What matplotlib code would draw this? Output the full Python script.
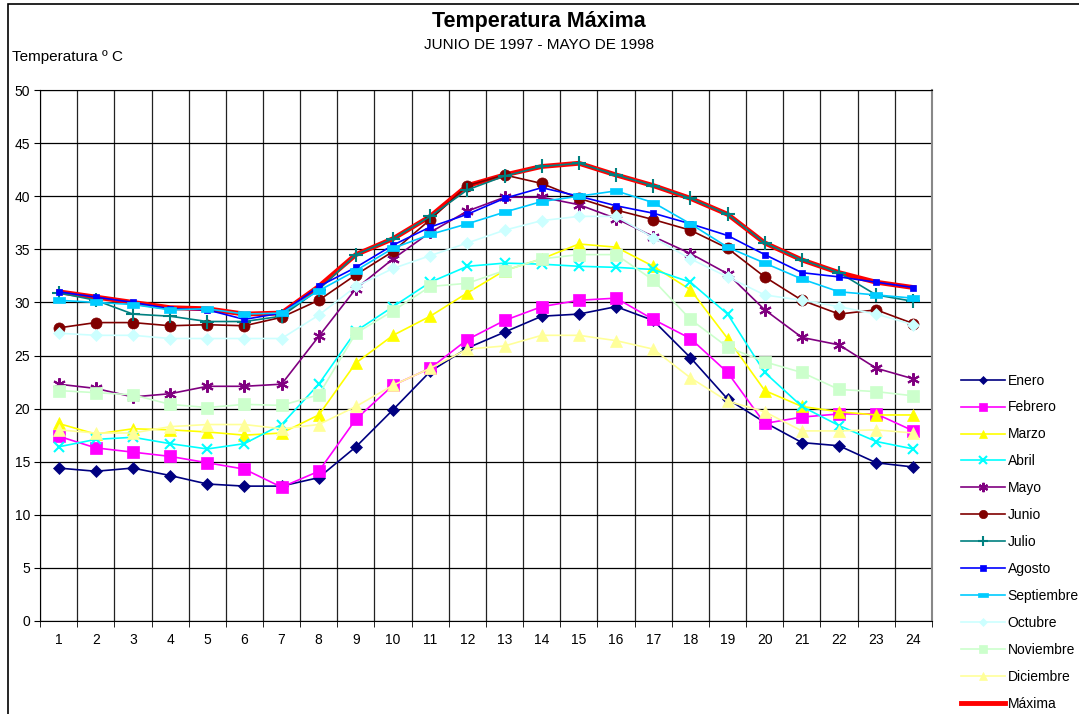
import matplotlib
matplotlib.use('Agg')
import matplotlib.pyplot as plt
from matplotlib.patches import Rectangle
from matplotlib.ticker import MultipleLocator

plt.rcParams['font.family'] = ['Liberation Sans', 'DejaVu Sans']

horas = list(range(1, 25))

enero = [14.4, 14.1, 14.4, 13.7, 12.9, 12.7, 12.7, 13.5, 16.4, 19.9, 23.5, 25.7,
         27.2, 28.7, 28.9, 29.6, 28.3, 24.8, 20.9, 18.7, 16.8, 16.5, 14.9, 14.5]
febrero = [17.4, 16.3, 15.9, 15.5, 14.9, 14.3, 12.6, 14.1, 19.0, 22.2, 23.8, 26.5,
           28.3, 29.6, 30.2, 30.4, 28.4, 26.6, 23.4, 18.6, 19.2, 19.5, 19.5, 17.9]
marzo = [18.6, 17.6, 18.1, 18.0, 17.8, 17.5, 17.7, 19.4, 24.3, 26.9, 28.7, 30.9,
         33.0, 34.1, 35.5, 35.2, 33.4, 31.2, 26.6, 21.7, 20.2, 19.7, 19.4, 19.4]
abril = [16.4, 17.1, 17.3, 16.7, 16.2, 16.7, 18.5, 22.3, 27.3, 29.6, 31.9, 33.4,
         33.7, 33.6, 33.4, 33.3, 33.1, 31.9, 28.9, 23.4, 20.2, 18.4, 16.9, 16.2]
mayo = [22.3, 21.9, 21.1, 21.4, 22.1, 22.1, 22.3, 26.8, 31.3, 34.1, 36.6, 38.6,
        39.9, 39.9, 39.2, 37.9, 36.2, 34.6, 32.7, 29.3, 26.7, 26.0, 23.8, 22.8]
junio = [27.6, 28.1, 28.1, 27.8, 27.9, 27.8, 28.6, 30.2, 32.6, 34.8, 37.8, 41.0,
         42.0, 41.2, 39.8, 38.7, 37.8, 36.8, 35.1, 32.4, 30.2, 28.9, 29.3, 28.0]
julio = [30.9, 30.2, 28.9, 28.7, 28.2, 28.2, 28.7, 31.2, 34.5, 36.0, 38.1, 40.6,
         41.9, 42.8, 43.1, 42.0, 41.0, 39.8, 38.3, 35.6, 34.0, 32.8, 30.7, 30.1]
agosto = [31.0, 30.5, 30.0, 29.4, 29.3, 28.4, 29.0, 31.5, 33.3, 35.4, 37.1, 38.3,
          39.8, 40.8, 40.0, 39.1, 38.4, 37.4, 36.3, 34.5, 32.8, 32.4, 31.9, 31.4]
septiembre = [30.2, 30.0, 29.8, 29.3, 29.4, 28.9, 29.0, 31.1, 33.0, 35.1, 36.4, 37.4,
              38.5, 39.5, 40.0, 40.5, 39.4, 37.4, 35.2, 33.7, 32.2, 31.0, 30.7, 30.4]
octubre = [27.1, 26.9, 26.9, 26.6, 26.6, 26.6, 26.6, 28.8, 31.5, 33.2, 34.4, 35.6,
           36.8, 37.7, 38.1, 38.1, 36.1, 34.1, 32.4, 30.7, 30.2, 29.6, 28.9, 27.9]
noviembre = [21.7, 21.5, 21.3, 20.4, 20.1, 20.4, 20.3, 21.3, 27.1, 29.2, 31.5, 31.8,
             33.0, 34.1, 34.5, 34.5, 32.1, 28.4, 25.8, 24.4, 23.4, 21.8, 21.6, 21.2]
diciembre = [18.0, 17.7, 17.7, 18.3, 18.5, 18.5, 18.1, 18.5, 20.2, 22.2, 23.8, 25.6,
             25.9, 26.9, 26.9, 26.4, 25.6, 22.9, 20.7, 19.7, 17.9, 17.9, 18.0, 17.7]
maxima = [31.0, 30.5, 30.0, 29.5, 29.4, 28.9, 29.0, 31.5, 34.5, 36.0, 38.1, 41.0,
          42.0, 42.8, 43.1, 42.0, 41.0, 39.8, 38.3, 35.6, 34.0, 32.8, 31.9, 31.4]

rect_ancho = [(-1, -0.5), (1, -0.5), (1, 0.5), (-1, 0.5), (-1, -0.5)]

# nombre, datos, color, marcador, tamaño
series = [
    ('Enero', enero, '#000080', 'D', 6),
    ('Febrero', febrero, '#FF00FF', 's', 8),
    ('Marzo', marzo, '#FFFF00', '^', 8),
    ('Abril', abril, '#00FFFF', 'x', 7),
    ('Mayo', mayo, '#800080', (6, 2, 0), 9),
    ('Junio', junio, '#800000', 'o', 8),
    ('Julio', julio, '#008080', '+', 10),
    ('Agosto', agosto, '#0000FF', 's', 5),
    ('Septiembre', septiembre, '#00CCFF', rect_ancho, 9),
    ('Octubre', octubre, '#CCFFFF', 'D', 6),
    ('Noviembre', noviembre, '#CCFFCC', 's', 8),
    ('Diciembre', diciembre, '#FFFF99', '^', 8),
]

fig = plt.figure(figsize=(10.79, 7.14), dpi=100)
ax = fig.add_axes([40 / 1079, 93 / 714, 892 / 1079, 531 / 714])

# Máxima debajo de los marcadores
h_max, = ax.plot(horas, maxima, color='#FF0000', lw=3.5, label='Máxima', zorder=2)

handles = []
for nombre, datos, color, marca, tam in series:
    h, = ax.plot(horas, datos, color=color, lw=1.2, marker=marca, markersize=tam,
                 markeredgewidth=1.5 if marca in ('x', '+', (6, 2, 0)) else 0.5,
                 markeredgecolor=color, label=nombre, zorder=3)
    handles.append(h)
handles.append(h_max)

ax.set_xlim(0.5, 24.5)
ax.set_ylim(0, 50)
ax.set_xticks(horas)
ax.xaxis.set_minor_locator(MultipleLocator(1, offset=0.5))
ax.yaxis.set_major_locator(MultipleLocator(5))
ax.tick_params(axis='x', which='major', length=0, pad=9, labelsize=10)
ax.tick_params(axis='x', which='minor', length=4, direction='out', color='black')
ax.tick_params(axis='y', length=4, direction='out', pad=3, labelsize=10)
ax.grid(True, which='minor', axis='x', color='#222222', lw=0.9)
ax.grid(True, which='major', axis='y', color='black', lw=0.9)
ax.set_axisbelow(True)
for lado in ['left', 'bottom', 'top']:
    ax.spines[lado].set_color('black')
ax.spines['right'].set_color('#888888')
ax.spines['right'].set_linewidth(1.5)

fig.text(539 / 1079, 1 - 21 / 714, 'Temperatura Máxima', ha='center', va='center',
         fontsize=15.5, fontweight='bold')
fig.text(539 / 1079, 1 - 45 / 714, 'JUNIO DE 1997 - MAYO DE 1998', ha='center',
         va='center', fontsize=11)
fig.text(12 / 1079, 1 - 57 / 714, 'Temperatura º C', ha='left', va='center',
         fontsize=11)

fig.legend(handles=handles, loc='upper left', bbox_to_anchor=(955 / 1079, 1 - 368 / 714),
           frameon=False, fontsize=10, handlelength=3.2, labelspacing=0.93,
           handletextpad=0.2, borderaxespad=0, markerscale=0.75)

fig.patches.append(Rectangle((8 / 1079, -0.01), 1.0, (714 - 4) / 714 + 0.01,
                             transform=fig.transFigure, fill=False,
                             edgecolor='black', lw=1.2))

plt.savefig('out.png', dpi=100)
